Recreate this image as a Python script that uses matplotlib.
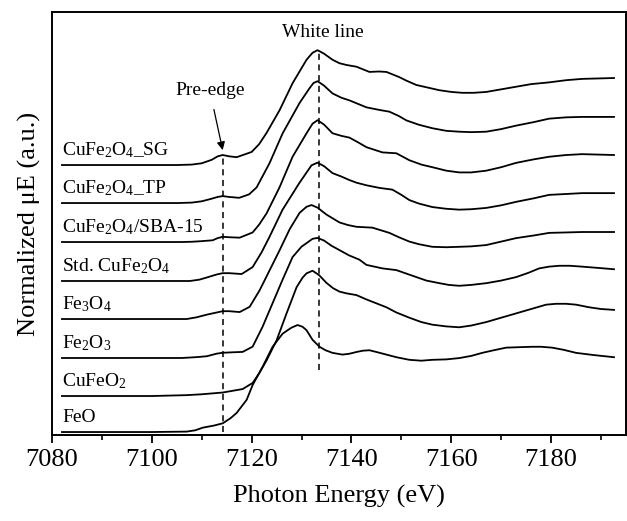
import numpy as np
import matplotlib
matplotlib.use('Agg')
import matplotlib.pyplot as plt
from matplotlib.ticker import MultipleLocator

plt.rcParams['font.family'] = ['Liberation Serif', 'DejaVu Serif']
plt.rcParams['mathtext.fontset'] = 'custom'
plt.rcParams['mathtext.rm'] = 'Liberation Serif'
plt.rcParams['mathtext.it'] = 'Liberation Serif:italic'
plt.rcParams['mathtext.default'] = 'regular'

# spectra (energy in eV, normalized mu, baseline = 0)
e_sg = [7082, 7105, 7108, 7110, 7112, 7113.2, 7114.2, 7115.5, 7117, 7120, 7121.5, 7123, 7125.6, 7128.2,
        7131, 7132.2, 7133.2, 7134.5, 7136.2, 7137.6, 7139, 7141, 7143.6, 7145.5, 7147, 7149.6, 7151,
        7153, 7157.6, 7160, 7162.2, 7164.5, 7167, 7170, 7173, 7176, 7179.6, 7183, 7186.2, 7192.6]
mu_sg = [0, 0, 0.005, 0.02, 0.06, 0.10, 0.115, 0.10, 0.09, 0.15, 0.24, 0.37, 0.63, 0.94,
         1.21, 1.29, 1.32, 1.28, 1.21, 1.17, 1.15, 1.13, 1.07, 1.075, 1.07, 1.01, 0.97,
         0.92, 0.86, 0.84, 0.83, 0.83, 0.84, 0.87, 0.90, 0.93, 0.95, 0.975, 0.99, 1.0]

e_tp = [7082, 7105, 7108, 7110, 7112, 7113.2, 7114.2, 7115.5, 7117.5, 7119.5, 7121, 7123.6, 7126.2,
        7129.6, 7131.6, 7132.4, 7133.2, 7134.5, 7136.2, 7138, 7139.6, 7143, 7145.6, 7147.6, 7149.5,
        7151, 7153.5, 7156.2, 7159, 7161.6, 7164, 7167, 7170, 7173, 7176.5, 7179.6, 7183, 7186.2, 7192.6]
mu_tp = [0, 0, 0.005, 0.02, 0.05, 0.07, 0.08, 0.07, 0.06, 0.10, 0.18, 0.46, 0.80,
         1.15, 1.32, 1.38, 1.40, 1.35, 1.26, 1.21, 1.18, 1.10, 1.07, 1.05, 1.00,
         0.95, 0.90, 0.86, 0.83, 0.82, 0.815, 0.82, 0.85, 0.89, 0.93, 0.97, 0.985, 0.99, 0.99]

e_sba = [7082, 7106, 7108, 7110, 7112.2, 7113.2, 7114.2, 7115.5, 7117.6, 7120.2, 7121.5, 7123, 7125.6,
         7128.2, 7131, 7132.2, 7133.2, 7134.5, 7136.2, 7138, 7139.6, 7141.5, 7143, 7146.2, 7149,
         7151.6, 7154, 7156.2, 7159, 7161.6, 7164, 7167, 7170, 7173, 7176.5, 7179.6, 7183, 7186.2, 7192.6]
mu_sba = [0, 0, 0.003, 0.01, 0.02, 0.045, 0.06, 0.055, 0.05, 0.11, 0.20, 0.33, 0.63,
          0.98, 1.25, 1.36, 1.40, 1.35, 1.25, 1.22, 1.20, 1.14, 1.09, 1.03, 1.02,
          0.94, 0.89, 0.86, 0.82, 0.80, 0.80, 0.82, 0.86, 0.91, 0.95, 0.98, 1.0, 1.01, 1.0]

e_std = [7082, 7107.6, 7109.5, 7111, 7113, 7114.2, 7115.5, 7118, 7120.2, 7122, 7123.6, 7126.2, 7129.6,
         7132, 7133.2, 7134.5, 7136.2, 7138, 7139.6, 7141, 7143, 7145.6, 7148.2, 7150, 7151.6,
         7153.5, 7156.2, 7159, 7161.6, 7164, 7167, 7170, 7173, 7176.5, 7179.6, 7183, 7186.2, 7192.6]
mu_std = [0, 0, 0.015, 0.04, 0.075, 0.09, 0.09, 0.08, 0.16, 0.33, 0.51, 0.82, 1.13,
          1.33, 1.36, 1.32, 1.24, 1.20, 1.16, 1.13, 1.10, 1.07, 1.05, 0.99, 0.93,
          0.89, 0.85, 0.83, 0.82, 0.825, 0.84, 0.87, 0.91, 0.95, 0.99, 1.0, 1.01, 1.01]

e_fe3o4 = [7082, 7107, 7109, 7111, 7113, 7114.2, 7115.5, 7117.6, 7119.6, 7121.6, 7123.6, 7125.6, 7127.6,
           7129.6, 7131, 7132, 7133.2, 7135, 7137.6, 7139.3, 7141, 7144.2, 7147.6, 7149.5, 7151.6,
           7153.5, 7156.2, 7159, 7161.6, 7164, 7167, 7170, 7173, 7176.5, 7179.6, 7183, 7186.2, 7192.6]
mu_fe3o4 = [0, 0, 0.02, 0.05, 0.075, 0.09, 0.09, 0.08, 0.14, 0.33, 0.56, 0.79, 1.03,
            1.22, 1.29, 1.31, 1.28, 1.20, 1.11, 1.08, 1.06, 1.05, 0.99, 0.94, 0.89,
            0.86, 0.83, 0.825, 0.83, 0.835, 0.85, 0.89, 0.93, 0.96, 0.99, 0.995, 1.0, 1.0]

e_fe2o3 = [7082, 7106, 7109, 7111, 7113, 7114.2, 7116, 7118.2, 7120.2, 7122.2, 7124.2, 7126.2, 7128.2,
           7130, 7131, 7132.2, 7133.2, 7134.5, 7136, 7137.6, 7139.5, 7141.6, 7143, 7146.2, 7149,
           7151, 7153, 7155, 7157.6, 7159.5, 7161.6, 7164, 7167, 7170, 7173, 7175.5, 7177.6, 7179.6,
           7181.6, 7183.8, 7186.2, 7189.5, 7192.6]
mu_fe2o3 = [0, 0, 0.01, 0.02, 0.05, 0.06, 0.065, 0.07, 0.13, 0.36, 0.63, 0.90, 1.16,
            1.28, 1.32, 1.37, 1.38, 1.35, 1.29, 1.24, 1.18, 1.13, 1.07, 1.03, 1.01,
            0.97, 0.93, 0.89, 0.86, 0.84, 0.83, 0.84, 0.86, 0.89, 0.93, 0.98, 1.03, 1.05,
            1.06, 1.06, 1.05, 1.035, 1.02]

e_cufeo2 = [7082, 7100, 7107, 7110, 7114.2, 7118.2, 7120.2, 7121.5, 7123, 7125, 7127, 7129, 7130.2,
            7131, 7132.2, 7133.5, 7135, 7136.3, 7137.6, 7139, 7141, 7143, 7147, 7149, 7151.6,
            7154, 7156.2, 7159, 7161.6, 7164, 7167, 7170, 7173, 7176, 7179, 7181, 7183, 7185,
            7187.6, 7190, 7192.6]
mu_cufeo2 = [0, 0, 0.01, 0.02, 0.04, 0.08, 0.15, 0.26, 0.41, 0.64, 0.95, 1.25, 1.36,
             1.41, 1.44, 1.39, 1.30, 1.24, 1.20, 1.18, 1.16, 1.11, 1.02, 0.96, 0.90,
             0.85, 0.82, 0.80, 0.79, 0.81, 0.85, 0.90, 0.95, 1.00, 1.05, 1.06, 1.06, 1.05,
             1.02, 1.0, 0.99]

e_feo = [7082, 7100, 7107, 7108.7, 7110.2, 7112.5, 7114.2, 7115.8, 7117, 7119, 7120.2, 7122.2, 7124.2,
         7126.2, 7127.2, 7128, 7129.2, 7130.2, 7131, 7132.2, 7133.6, 7134.8, 7136.2, 7138.2, 7139.6,
         7141, 7142.3, 7143.6, 7145, 7147, 7149, 7151.6, 7154, 7156.2, 7159, 7161.6, 7164, 7166.2,
         7168.5, 7171, 7173.5, 7176.2, 7178, 7180.2, 7182.5, 7185, 7188.5, 7192.6]
mu_feo = [0, 0, 0.005, 0.02, 0.05, 0.075, 0.10, 0.16, 0.22, 0.37, 0.54, 0.75, 0.98,
          1.13, 1.17, 1.20, 1.23, 1.21, 1.17, 1.06, 0.98, 0.94, 0.91, 0.89, 0.90,
          0.92, 0.935, 0.94, 0.92, 0.89, 0.86, 0.83, 0.82, 0.83, 0.835, 0.85, 0.875, 0.91,
          0.94, 0.97, 0.975, 0.98, 0.98, 0.97, 0.945, 0.91, 0.885, 0.86]

labels = ['CuFe$_2$O$_4$_SG', 'CuFe$_2$O$_4$_TP', 'CuFe$_2$O$_4$/SBA-15', 'Std. CuFe$_2$O$_4$',
          'Fe$_3$O$_4$', 'Fe$_2$O$_3$', 'CuFeO$_2$', 'FeO']
energies = [e_sg, e_tp, e_sba, e_std, e_fe3o4, e_fe2o3, e_cufeo2, e_feo]
spectra = [mu_sg, mu_tp, mu_sba, mu_std, mu_fe3o4, mu_fe2o3, mu_cufeo2, mu_feo]
offsets = [3.069, 2.632, 2.184, 1.736, 1.299, 0.851, 0.414, 0.0]

pre_edge = 7114.2
white_line = 7133.4

fig = plt.figure(figsize=(6.27, 5.21), dpi=100)
ax = fig.add_axes([0.0829, 0.165, 0.9155, 0.812])

for e, mu, off, lab in zip(energies, spectra, offsets, labels):
    ax.plot(e, np.array(mu) + off, color='black', lw=1.3, solid_joinstyle='round')
    ax.text(7082, off + 0.11, lab, fontsize=14, va='baseline', ha='left')

# dashed guide lines
ax.plot([pre_edge, pre_edge], [0.0, 3.18], ls=(0, (4, 3)), color='black', lw=1.1)
ax.plot([white_line, white_line], [0.71, 4.39], ls=(0, (4, 3)), color='black', lw=1.1)

ax.text(white_line + 0.8, 4.59, 'White line', fontsize=14, ha='center', va='center')
ax.annotate('Pre-edge', xy=(pre_edge, 3.24), xytext=(7111.6, 3.93), fontsize=14,
            ha='center', va='center',
            arrowprops=dict(arrowstyle='-|>', color='black', lw=0.9, mutation_scale=12,
                            shrinkA=6, shrinkB=0))

ax.set_xlim(7080, 7195)
ax.set_ylim(-0.0345, 4.828)
ax.xaxis.set_major_locator(MultipleLocator(20))
ax.xaxis.set_minor_locator(MultipleLocator(10))
ax.tick_params(axis='x', which='major', direction='out', length=6, width=1.3, labelsize=19, pad=4)
ax.tick_params(axis='x', which='minor', direction='out', length=3.6, width=1.2)
ax.set_yticks([])
for s in ax.spines.values():
    s.set_linewidth(1.4)

ax.set_xlabel('Photon Energy (eV)', fontsize=19, labelpad=10)
ax.set_ylabel('Normalized μE (a.u.)', fontsize=19, labelpad=8)

fig.savefig('out.png', dpi=100)
